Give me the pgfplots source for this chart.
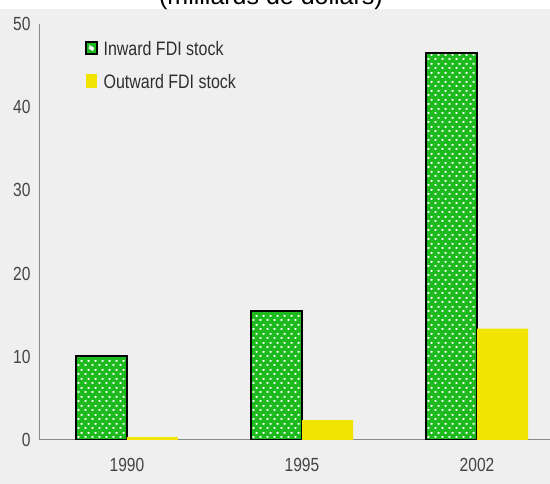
\documentclass[border=0pt]{standalone}
\usepackage{fontspec}
\setmainfont{Liberation Sans}
\newfontfamily\narrowfont[FakeStretch=0.82]{Liberation Sans}
\usepackage{pgfplots}
\pgfplotsset{compat=1.18}
\usetikzlibrary{patterns}
\definecolor{bg}{HTML}{EFEFEF}
\definecolor{fdigreen}{RGB}{28,186,28}
\definecolor{fdiyellow}{RGB}{240,228,0}
\definecolor{axgray}{HTML}{8A8A8A}
\definecolor{lblgray}{HTML}{444444}
\definecolor{leggray}{HTML}{2E2E2E}
\pgfdeclarepatternformonly{hexdots}{\pgfpointorigin}{\pgfpoint{7pt}{9pt}}{\pgfpoint{7pt}{9pt}}{%
  \pgfpathellipse{\pgfpoint{1.75pt}{2.25pt}}{\pgfpoint{1.7pt}{0pt}}{\pgfpoint{0pt}{1.1pt}}%
  \pgfpathellipse{\pgfpoint{5.25pt}{6.75pt}}{\pgfpoint{1.7pt}{0pt}}{\pgfpoint{0pt}{1.1pt}}%
  \pgfusepath{fill}}
\begin{document}
\begin{tikzpicture}
\useasboundingbox (-40pt,-44pt) rectangle (510pt,440pt);
\fill[white] (-40pt,-44pt) rectangle (510pt,440pt);
\fill[bg] (-40pt,-44pt) rectangle (510pt,431pt);
\begin{scope}
\clip (-40pt,-44pt) rectangle (510pt,440pt);
\node[anchor=base, font=\fontsize{25}{30}\selectfont, inner sep=0pt] at (231pt,435pt) {(milliards de dollars)};
\end{scope}
\begin{axis}[
  at={(0pt,0pt)}, anchor=south west,
  scale only axis, width=510pt, height=416pt,
  xmin=-0.497, xmax=2.417, ymin=0, ymax=50,
  axis x line*=bottom, axis y line*=left,
  axis line style={axgray, line width=1pt},
  xtick={0,1,2}, xticklabels={1990,1995,2002},
  ytick={0,10,...,50},
  major tick length=0pt,
  /pgf/number format/assume math mode=true,
  tick label style={font=\narrowfont\fontsize{19}{21}\selectfont, text=lblgray},
  yticklabel style={xshift=-6pt},
  xticklabel style={yshift=-15pt},
  ybar=0pt, bar width=51pt,
  legend style={at={(0.088,0.96)}, anchor=north west, draw=none, fill=none,
    font=\narrowfont\fontsize{19.5}{21}\selectfont, text=leggray, inner sep=0pt,
    row sep=19pt, nodes={inner sep=0pt, text height=14pt, text depth=0pt}},
  legend cell align=left,
]
\addplot[fill=fdigreen, draw=black, line width=1.5pt,
  postaction={pattern=hexdots, pattern color=white},
  legend image code/.code={
    \fill[black] (0pt,-6.5pt) rectangle (11pt,6.5pt);
    \fill[fdigreen] (2pt,-4.5pt) rectangle (9pt,4.5pt);
    \fill[white] (5.5pt,0pt) ellipse (1.6pt and 1.2pt);
    \path (17pt,0pt);
  }] coordinates {(0,10.1) (1,15.5) (2,46.5)};
\addlegendentry{Inward FDI stock}
\addplot[fill=fdiyellow, draw=none,
  legend image code/.code={
    \fill[fdiyellow] (0pt,-7pt) rectangle (11pt,7pt);
    \path (17pt,0pt);
  }] coordinates {(0,0.35) (1,2.4) (2,13.4)};
\addlegendentry{Outward FDI stock}
\end{axis}
\end{tikzpicture}
\end{document}
